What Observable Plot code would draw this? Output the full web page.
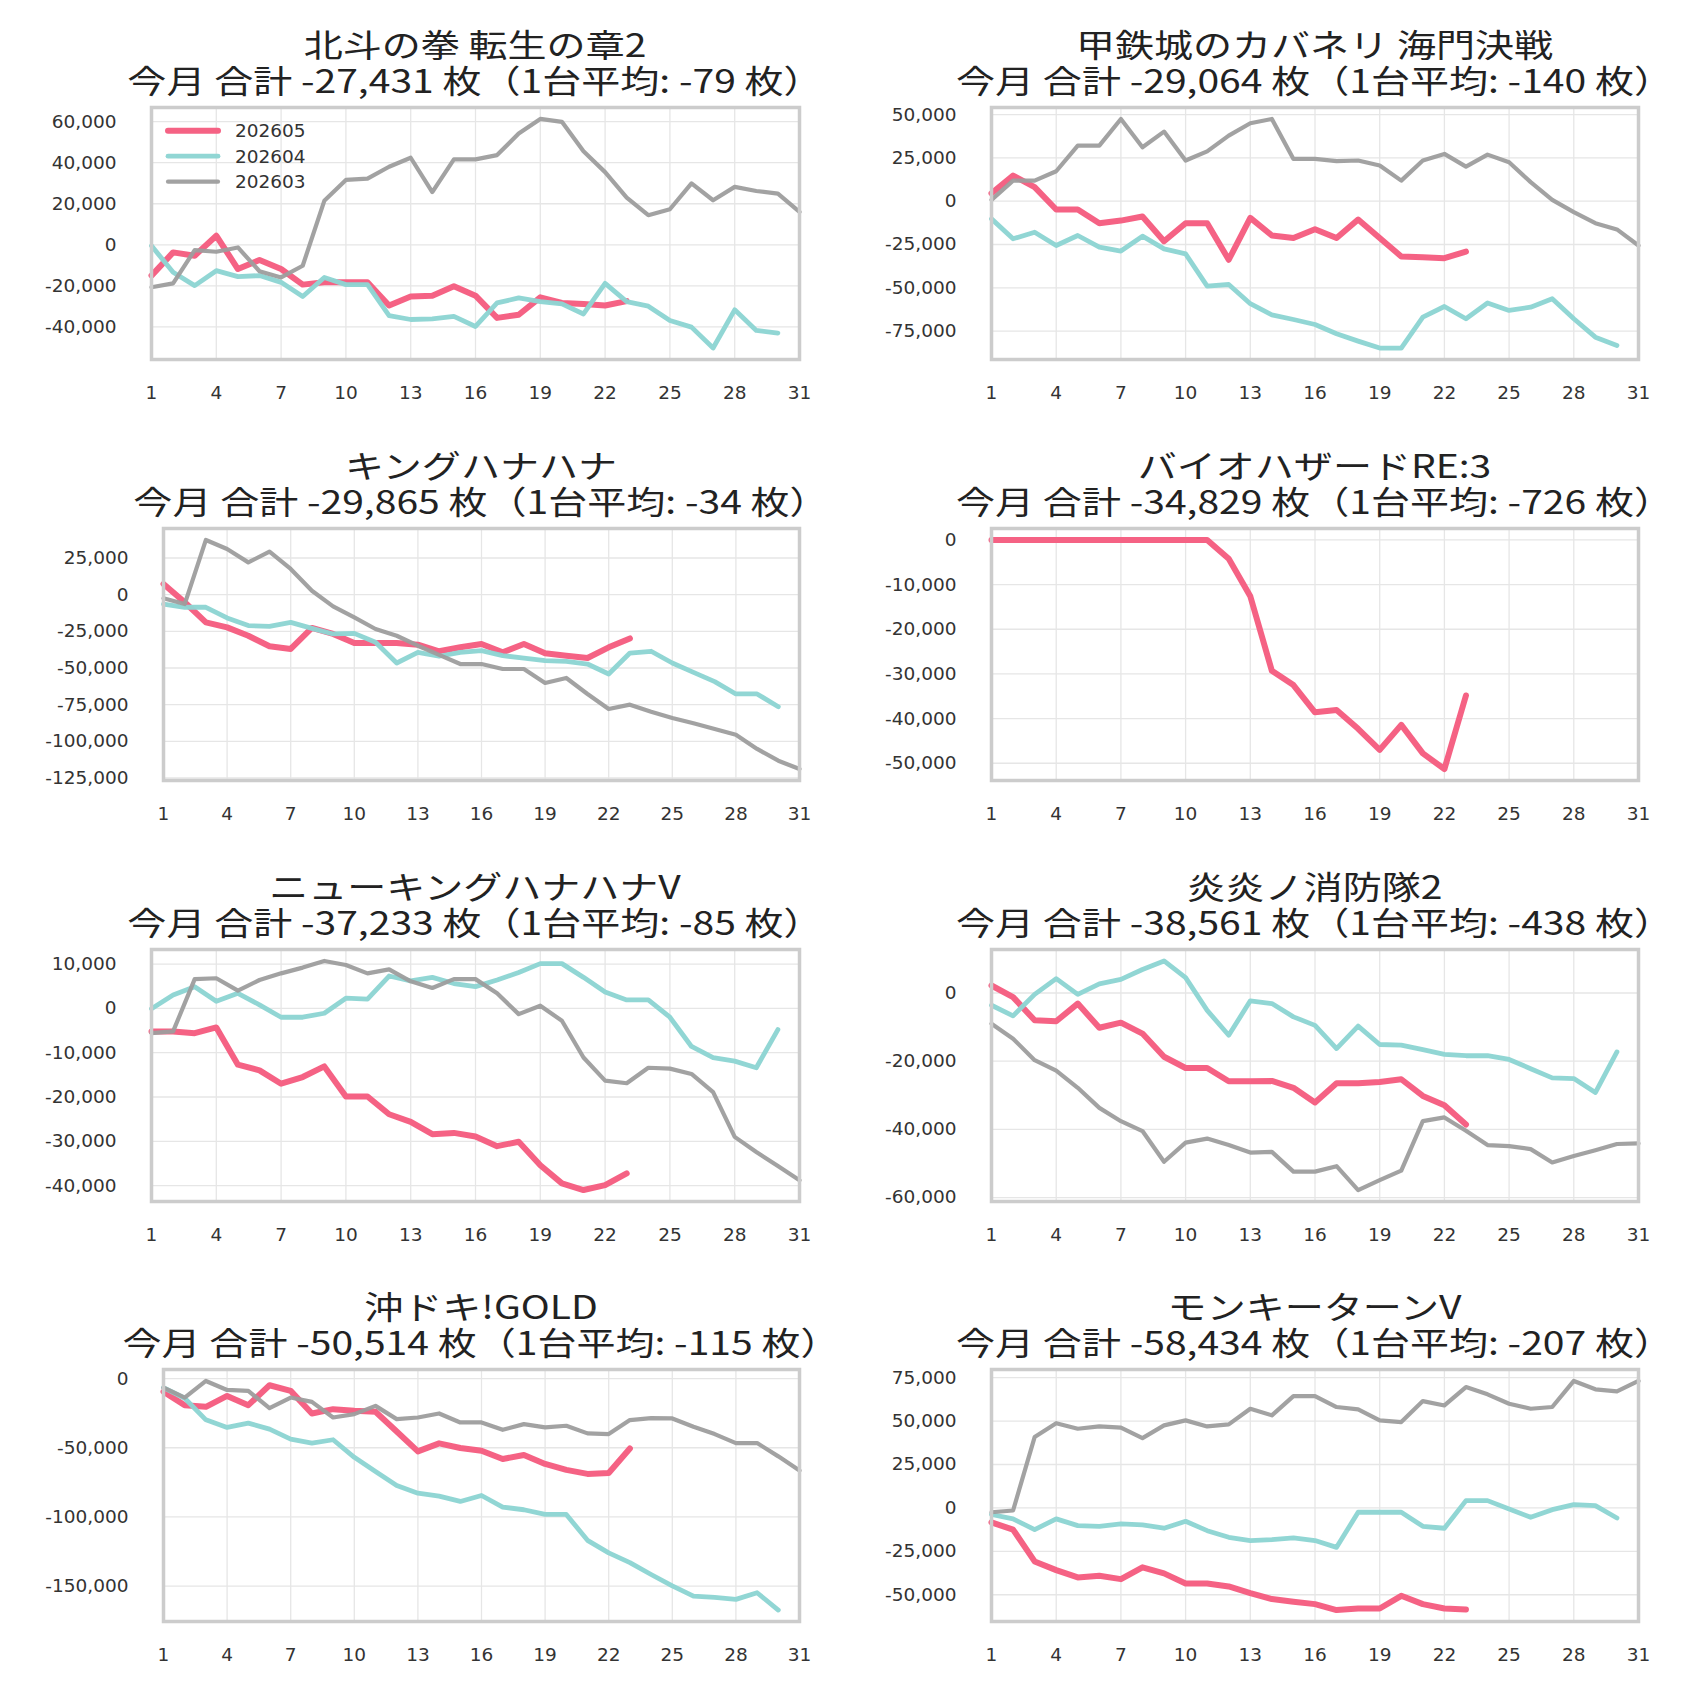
<!DOCTYPE html>
<html>
<head>
<meta charset="utf-8">
<script src="https://cdn.jsdelivr.net/npm/d3@7"></script>
<script src="https://cdn.jsdelivr.net/npm/@observablehq/plot@0.6"></script>
<style>
  html, body { margin: 0; padding: 0; background: #ffffff; }
  #root { position: relative; width: 1700px; height: 1700px; background: #ffffff; overflow: hidden; }
  .title { position: absolute; text-align: center; font-family: "Noto Sans CJK JP", "Noto Sans", sans-serif; font-size: 32px; line-height: 36px; height: 36px; color: #222222; white-space: nowrap; transform: scaleX(1.22); transform-origin: 50% 50%; }
  .panel { position: absolute; }
</style>
</head>
<body>
<div id="root"></div>
<script>
// ---- data ----
const months = ["202605", "202604", "202603"];
const titles = ["北斗の拳 転生の章2", "甲鉄城のカバネリ 海門決戦", "キングハナハナ", "バイオハザードRE:3", "ニューキングハナハナV", "炎炎ノ消防隊2", "沖ドキ!GOLD", "モンキーターンV"];
const totals = [-27431, -29064, -29865, -34829, -37233, -38561, -50514, -58434];
const avgs = [-79, -140, -34, -726, -85, -438, -115, -207];
const xTicks = [1, 4, 7, 10, 13, 16, 19, 22, 25, 28, 31];

const yTicks_hokuto = [-40000, -20000, 0, 20000, 40000, 60000];
const yTicks_kabaneri = [-75000, -50000, -25000, 0, 25000, 50000];
const yTicks_king = [-125000, -100000, -75000, -50000, -25000, 0, 25000];
const yTicks_bio = [-50000, -40000, -30000, -20000, -10000, 0];
const yTicks_newking = [-40000, -30000, -20000, -10000, 0, 10000];
const yTicks_enen = [-60000, -40000, -20000, 0];
const yTicks_okidoki = [-150000, -100000, -50000, 0];
const yTicks_monkey = [-50000, -25000, 0, 25000, 50000, 75000];

const hokuto_202605 = [-15000,-3700,-5300,4400,-11800,-7400,-11800,-19400,-18300,-18300,-18300,-29600,-25200,-24800,-20200,-24800,-35600,-34100,-25600,-28300,-28800,-29600,-27431];
const hokuto_202604 = [-500,-13400,-19900,-12600,-15500,-15000,-18300,-25200,-15900,-19400,-19400,-34500,-36400,-36100,-34900,-39800,-28300,-25900,-27700,-28800,-33700,-18800,-27700,-29900,-36900,-40100,-50300,-31700,-41700,-43000];
const hokuto_202603 = [-20700,-18800,-2600,-3400,-1300,-12900,-15900,-10200,21400,31600,32200,38000,42400,25700,41600,41600,43700,54200,61300,59900,45600,35400,23000,14400,17300,29900,21700,28200,26200,24900,16000];

const kabaneri_202605 = [4600,14800,8100,-4800,-4800,-12700,-11200,-8800,-23100,-12700,-12700,-33800,-9600,-19800,-21200,-16200,-21200,-10600,-21200,-31900,-32300,-32900,-29064];
const kabaneri_202604 = [-10200,-21700,-17900,-25600,-19800,-26500,-28800,-20200,-27500,-30400,-49000,-48100,-59200,-65600,-68300,-71200,-76500,-80800,-84800,-84800,-66900,-60800,-67900,-58800,-63100,-61200,-56300,-67900,-78500,-83300];
const kabaneri_202603 = [800,11900,11900,17300,32100,32100,47500,31200,40200,23500,28800,37900,45000,47500,24400,24400,23100,23500,20600,11900,23500,27300,20000,26900,22500,11000,800,-6300,-12700,-16300,-25600];

const king_202605 = [7300,-5200,-18900,-22300,-28000,-35200,-37000,-22700,-26800,-33000,-33000,-33000,-34100,-38600,-35900,-33600,-39300,-33600,-40000,-41600,-43200,-35900,-29865];
const king_202604 = [-6400,-8600,-8600,-15900,-21100,-21600,-18900,-23000,-26800,-26400,-32500,-46600,-39300,-42000,-39300,-38200,-41600,-43200,-45000,-45500,-47300,-54100,-39800,-38600,-46600,-53000,-59300,-67700,-67700,-76400];
const king_202603 = [-2500,-6400,37300,31100,22000,29300,17500,2700,-8000,-15500,-23400,-28000,-34800,-41100,-47300,-47300,-50700,-50700,-60200,-56800,-67700,-78000,-75000,-79800,-84100,-87700,-91600,-95500,-105200,-113200,-118900];

const bio_202605 = [0,0,0,0,0,0,0,0,0,0,0,-4200,-12600,-29300,-32500,-38600,-38100,-42300,-47000,-41400,-47800,-51300,-34829];

const newking_202605 = [-5200,-5200,-5600,-4300,-12700,-14000,-17000,-15500,-13100,-19900,-19900,-23900,-25600,-28400,-28100,-28900,-31100,-30100,-35400,-39500,-41000,-39900,-37233];
const newking_202604 = [-100,3000,4900,1600,3400,800,-2000,-2000,-1100,2300,2100,7300,6200,7000,5600,4900,6400,8100,10100,10100,7000,3700,1900,1900,-2000,-8600,-11100,-11900,-13400,-4800];
const newking_202603 = [-5600,-5200,6600,6800,4000,6400,7900,9200,10700,9800,7900,8800,6100,4600,6600,6600,3400,-1300,600,-2800,-11100,-16300,-16900,-13400,-13600,-14800,-18900,-29000,-32400,-35600,-38800];

const enen_202605 = [2200,-1200,-8000,-8300,-3100,-10200,-8700,-11900,-18700,-22000,-22000,-25900,-25900,-25800,-27800,-32100,-26500,-26500,-26100,-25300,-30200,-32900,-38561];
const enen_202604 = [-3600,-6700,-400,4200,-400,2700,4000,6900,9400,4500,-5100,-12400,-2300,-3100,-7000,-9500,-16300,-9700,-15100,-15300,-16600,-18000,-18400,-18400,-19500,-22200,-24900,-25100,-29200,-17300];
const enen_202603 = [-9000,-13400,-19700,-22800,-27800,-33700,-37600,-40500,-49500,-43900,-42700,-44600,-46800,-46600,-52400,-52400,-50800,-57800,-54900,-52100,-37600,-36500,-40400,-44600,-44900,-45800,-49700,-47800,-46100,-44300,-44100];

const okidoki_202605 = [-9400,-19200,-20400,-12500,-19200,-4800,-8900,-25200,-22100,-23300,-24000,-38200,-52600,-46800,-50200,-52100,-58100,-55200,-61700,-66000,-68900,-68200,-50514];
const okidoki_202604 = [-6500,-14200,-29800,-35300,-32200,-36500,-43700,-46600,-44200,-56900,-67200,-77300,-82800,-85000,-88800,-84500,-92900,-94800,-98200,-98200,-116900,-126000,-133000,-141600,-149800,-157200,-158200,-159600,-154800,-167300];
const okidoki_202603 = [-6500,-13700,-1700,-8200,-8900,-21400,-13700,-16800,-28100,-25700,-19700,-29300,-28100,-25200,-31700,-31700,-37000,-32900,-35300,-34100,-39600,-40100,-30000,-28600,-28800,-34800,-40100,-46600,-46600,-56200,-66500];

const monkey_202605 = [-8300,-12500,-30800,-35800,-40000,-39100,-41000,-34200,-37700,-43500,-43500,-45200,-49000,-52500,-54000,-55400,-58800,-57900,-57900,-50600,-55400,-57900,-58434];
const monkey_202604 = [-3800,-6300,-12500,-6300,-10200,-10600,-9200,-9800,-11700,-7700,-13100,-16900,-18800,-18300,-17300,-18800,-22700,-2500,-2500,-2500,-10600,-11700,4200,4200,-600,-5400,-1000,1900,1300,-5800];
const monkey_202603 = [-2500,-1500,40800,48800,45600,46900,46200,40200,47500,50400,46900,48100,57100,53300,64400,64400,58100,56700,50400,49400,61500,59000,69600,65400,60000,57100,58100,73100,68300,67100,73100];

// ---- styles ----
const lineColors = ["#f55d80", "#8dd5d3", "#9d9d9d"];
const lineWidths = [6, 4.8, 4.2];
const lineOpacity = [0.97, 0.97, 0.95];

const panels = [
  {series: [hokuto_202605, hokuto_202604, hokuto_202603], yTicks: yTicks_hokuto, left: 151},
  {series: [kabaneri_202605, kabaneri_202604, kabaneri_202603], yTicks: yTicks_kabaneri, left: 991},
  {series: [king_202605, king_202604, king_202603], yTicks: yTicks_king, left: 163},
  {series: [bio_202605, null, null], yTicks: yTicks_bio, left: 991},
  {series: [newking_202605, newking_202604, newking_202603], yTicks: yTicks_newking, left: 151},
  {series: [enen_202605, enen_202604, enen_202603], yTicks: yTicks_enen, left: 991},
  {series: [okidoki_202605, okidoki_202604, okidoki_202603], yTicks: yTicks_okidoki, left: 163},
  {series: [monkey_202605, monkey_202604, monkey_202603], yTicks: yTicks_monkey, left: 991}
];

const root = document.getElementById("root");
const FRAME_H = 252, MT = 10, MB = 62;
const fmt = d => d.toLocaleString("en-US");

panels.forEach((p, i) => {
  const col = i % 2, row = Math.floor(i / 2);
  const x0 = col * 850;
  const fl = p.left, fr = col ? 1638 : 799;
  const ft = 107 + 420.8 * row;

  const rows = [];
  p.series.forEach((arr, k) => {
    if (arr) arr.forEach((v, j) => rows.push({day: j + 1, value: v, month: months[k]}));
  });
  const ext = d3.extent(rows, d => d.value);
  const pad = (ext[1] - ext[0]) * 0.05;

  const lineMarks = [];
  p.series.forEach((arr, k) => {
    if (!arr) return;
    lineMarks.push(Plot.line(rows.filter(r => r.month === months[k]), {
      x: "day", y: "value",
      stroke: lineColors[k], strokeWidth: lineWidths[k], strokeOpacity: lineOpacity[k],
      strokeLinejoin: "round", strokeLinecap: "round"
    }));
  });

  const svg = Plot.plot({
    width: 850,
    height: MT + FRAME_H + MB,
    marginLeft: fl - x0,
    marginRight: x0 + 850 - fr,
    marginTop: MT,
    marginBottom: MB,
    x: {domain: [1, 31], label: null},
    y: {domain: [ext[0] - pad, ext[1] + pad], label: null},
    style: {fontFamily: "'DejaVu Sans', sans-serif", fontSize: "18.5px", color: "#333333", background: "transparent"},
    marks: [
      Plot.gridX(xTicks, {stroke: "#e6e6e6", strokeOpacity: 1, strokeWidth: 1.3}),
      Plot.gridY(p.yTicks, {stroke: "#e6e6e6", strokeOpacity: 1, strokeWidth: 1.3}),
      ...lineMarks,
      Plot.frame({stroke: "#cccccc", strokeWidth: 3.5}),
      Plot.axisX({ticks: xTicks, tickSize: 0, tickPadding: 26.5, tickFormat: d => String(d), label: null}),
      Plot.axisY({ticks: p.yTicks, tickSize: 0, tickPadding: 35, tickFormat: fmt, label: null})
    ]
  });

  const wrap = document.createElement("div");
  wrap.className = "panel";
  wrap.style.left = x0 + "px";
  wrap.style.top = (ft - MT) + "px";
  wrap.appendChild(svg);
  root.appendChild(wrap);

  const lines = [titles[i], `今月 合計 ${fmt(totals[i])} 枚（1台平均: ${fmt(avgs[i])} 枚）`];
  lines.forEach((txt, li) => {
    const t = document.createElement("div");
    t.className = "title";
    t.style.left = (fl - 100) + "px";
    t.style.width = (fr - fl + 200) + "px";
    t.style.top = (ft - 82 + li * 36) + "px";
    t.textContent = txt;
    root.appendChild(t);
  });
});

// legend (first panel)
const ns = "http://www.w3.org/2000/svg";
const leg = document.createElementNS(ns, "svg");
leg.setAttribute("width", 220);
leg.setAttribute("height", 90);
leg.style.position = "absolute";
leg.style.left = "160px";
leg.style.top = "115px";
months.forEach((m, k) => {
  const y = 15.7 + k * 25.5;
  const ln = document.createElementNS(ns, "line");
  ln.setAttribute("x1", 8); ln.setAttribute("x2", 58);
  ln.setAttribute("y1", y); ln.setAttribute("y2", y);
  ln.setAttribute("stroke", lineColors[k]);
  ln.setAttribute("stroke-width", lineWidths[k]);
  ln.setAttribute("stroke-opacity", lineOpacity[k]);
  ln.setAttribute("stroke-linecap", "round");
  leg.appendChild(ln);
  const tx = document.createElementNS(ns, "text");
  tx.setAttribute("x", 75);
  tx.setAttribute("y", y);
  tx.setAttribute("dy", "0.35em");
  tx.setAttribute("font-family", "DejaVu Sans");
  tx.setAttribute("font-size", "18.5px");
  tx.setAttribute("fill", "#333333");
  tx.textContent = m;
  leg.appendChild(tx);
});
root.appendChild(leg);
</script>
</body>
</html>
